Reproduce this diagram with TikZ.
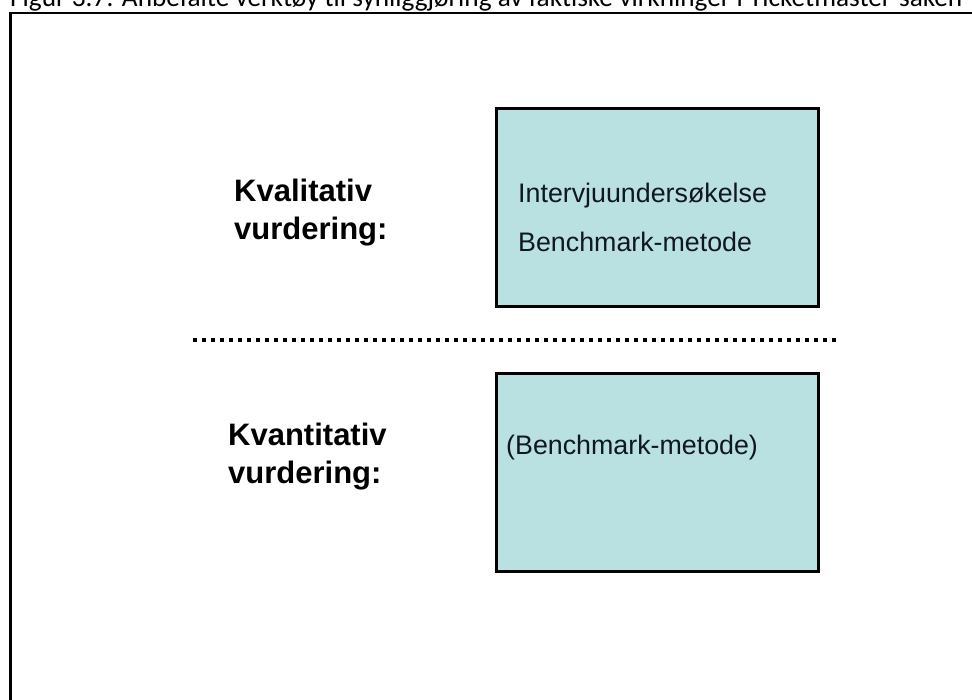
\documentclass[tikz,border=0pt]{standalone}
\usepackage{fontspec}
\setmainfont{Liberation Sans}
\newfontfamily\captionfont{Carlito}
\definecolor{boxfill}{RGB}{185,225,225}
\definecolor{ink}{RGB}{16,22,36}
\begin{document}
\begin{tikzpicture}[x=1pt,y=-1pt,
  toolbox/.style={draw=black, line width=3pt, fill=boxfill, rectangle,
    minimum width=322pt, minimum height=198pt, inner sep=0pt},
  itemtext/.style={anchor=base west, inner sep=0pt, text=ink,
    font=\fontsize{26.8}{32}\selectfont},
  headtext/.style={anchor=base west, inner sep=0pt, text=black,
    font=\bfseries\fontsize{31}{38}\selectfont},
  dotline/.style={line width=4pt, dash pattern=on 4pt off 5pt},
  frameline/.style={line width=2.2pt}]
\useasboundingbox (0,0) rectangle (972,700);
\begin{scope}
\clip (0,0) rectangle (972,700);
% figure caption, running off the top edge
\node[anchor=base west, inner sep=0pt] (caption) at (10,7)
  {\resizebox{952pt}{!}{\captionfont Figur 3.7: Anbefalte verktøy til synliggjøring av faktiske virkninger i Ticketmaster-saken}};
% outer frame (open to the right and bottom)
\coordinate (frTR) at (980,13);
\coordinate (frTL) at (10.5,13);
\coordinate (frBL) at (10.5,710);
\draw[frameline] (frTR) -- (frTL) -- (frBL);
\end{scope}

% tool boxes
\node[toolbox] (qualbox) at (657.5,207.5) {};
\node[toolbox] (quantbox) at (657.5,472.5) {};

\node[itemtext] (interview) at (518,203) {Intervjuundersøkelse};
\node[itemtext] (bench) at (518,252) {Benchmark-metode};
\node[itemtext] (benchq) at (506,454) {(Benchmark-metode)};

% row headings
\node[headtext] (qual1) at (234,202) {Kvalitativ};
\node[headtext] (qual2) at (234,240) {vurdering:};
\node[headtext] (quant1) at (228,446) {Kvantitativ};
\node[headtext] (quant2) at (228,483) {vurdering:};

% dotted separator
\coordinate (sepL) at (193,340);
\coordinate (sepR) at (839,340);
\draw[dotline] (sepL) -- (sepR);
\end{tikzpicture}
\end{document}
